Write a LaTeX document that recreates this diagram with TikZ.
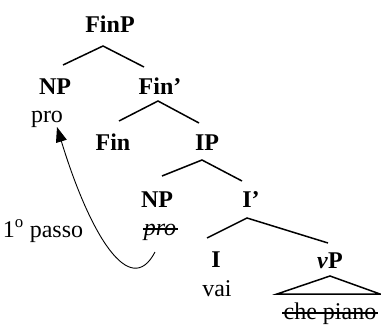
\documentclass[tikz,border=0pt]{standalone}
\usepackage{fontspec}
\setmainfont{Liberation Serif}
\usetikzlibrary{arrows.meta}

\begin{document}
\begin{tikzpicture}[
  x=1pt,y=1pt,
  every node/.style={font=\fontsize{24}{28}\selectfont,inner sep=0pt,anchor=base},
  cat/.style={font=\fontsize{24}{28}\selectfont\bfseries},
  branch/.style={line width=1.5pt},
  strike/.style={line width=1.2pt},
  move/.style={line width=0.9pt,-{Triangle[length=15pt,width=11pt]}},
]
\useasboundingbox (0,0) rectangle (381,325);

\node[cat] (finp) at (110,293) {FinP};
\node[cat] (np1) at (55,231) {NP};
\node (pro1) at (47,203) {pro};
\node[cat] (finbar) at (160,231) {Fin’};
\node[cat] (fin) at (113,175) {Fin};
\node[cat] (ip) at (207,175) {IP};
\node[cat] (np2) at (157,118) {NP};
\node (pro2) at (160,90) {\textit{pro}};
\node[cat] (ibar) at (251,118) {I’};
\node[cat] (i) at (216,58) {I};
\node (vai) at (217,29) {vai};
\node[cat] (vp) at (330,57) {\textit{v}P};
\node (chepiano) at (330,6) {che piano};
\node (passo) at (43,88) {1\textsuperscript{o} passo};

\draw[branch] ([shift={(8,29)}]np1.base) -- ([shift={(-7,-14)}]finp.base) -- ([shift={(-16,27)}]finbar.base);
\draw[branch] ([shift={(6,29)}]fin.base) -- ([shift={(-2,-7)}]finbar.base) -- ([shift={(-8,27)}]ip.base);
\draw[branch] ([shift={(5,31)}]np2.base) -- ([shift={(-5,-10)}]ip.base) -- ([shift={(-9,26)}]ibar.base);
\draw[branch] ([shift={(-9,29)}]i.base) -- ([shift={(-4,-11)}]ibar.base) -- ([shift={(-2,25)}]vp.base);
\draw[branch] ([shift={(0,-8)}]vp.base) -- ([shift={(-53,-26)}]vp.base) -- ([shift={(50,-26)}]vp.base) -- cycle;

% crossed-out copies
\draw[strike] ([shift={(-1,6)}]pro2.base west) -- ([shift={(2,6)}]pro2.base east);
\draw[strike] ([shift={(-1,6)}]chepiano.base west) -- ([shift={(1,6)}]chepiano.base east);

% movement
\draw[move] ([shift={(-5,-17)}]pro2.base) .. controls +(-25,-48) and +(33,-108) .. ([shift={(10,-5)}]pro1.base);
\end{tikzpicture}
\end{document}
